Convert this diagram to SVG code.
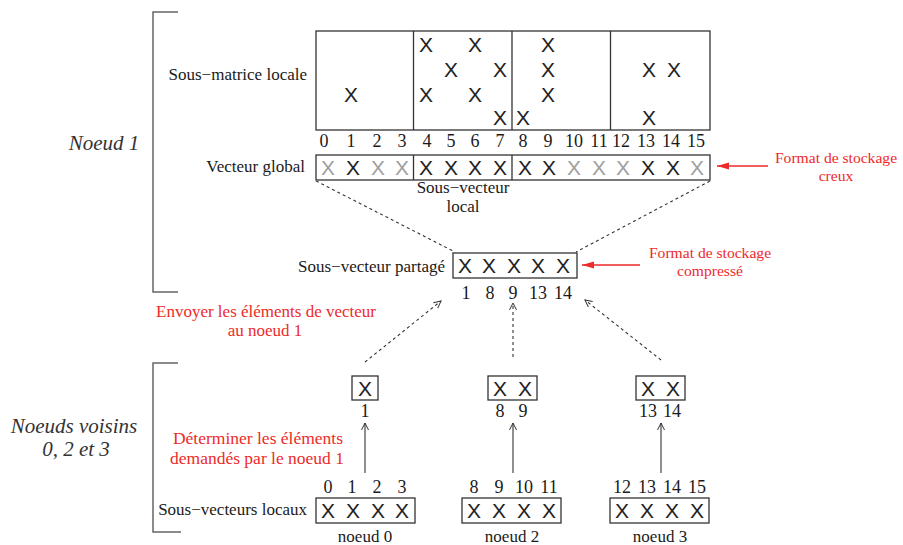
<svg xmlns="http://www.w3.org/2000/svg" width="903" height="545" viewBox="0 0 903 545">
<defs>
<style>
.lbl{font-family:"Liberation Serif",serif;font-size:17px;fill:#1a1a1a}
.num{font-family:"Liberation Serif",serif;font-size:18px;fill:#1a1a1a;text-anchor:middle}
.ital{font-family:"Liberation Serif",serif;font-style:italic;font-size:21px;fill:#333;text-anchor:middle}
.red{font-family:"Liberation Serif",serif;font-size:17.5px;fill:#ee2a2a;text-anchor:middle}
.rede{font-family:"Liberation Serif",serif;font-size:17px;fill:#ee2a2a;text-anchor:middle}
.redf{font-family:"Liberation Serif",serif;font-size:15.6px;fill:#ee2a2a;text-anchor:middle}
.x{font-family:"Liberation Sans",sans-serif;font-size:21px;fill:#222;text-anchor:middle}
.g{fill:#a0a0a0}
.box{fill:none;stroke:#333;stroke-width:1.3}
.brk{fill:none;stroke:#666;stroke-width:1.5}
.dash{fill:none;stroke:#333;stroke-width:1.1;stroke-dasharray:3,3}
.solid{fill:none;stroke:#333;stroke-width:1.1}
.rline{fill:none;stroke:#ee2a2a;stroke-width:1.3}
</style>
<marker id="open" markerWidth="10" markerHeight="10" refX="8" refY="5" orient="auto" markerUnits="userSpaceOnUse">
<path d="M1,1.5 L8,5 L1,8.5" fill="none" stroke="#333" stroke-width="1"/>
</marker>
<marker id="redh" markerWidth="14" markerHeight="10" refX="12" refY="5" orient="auto" markerUnits="userSpaceOnUse">
<path d="M0,1.5 L12,5 L0,8.5 Z" fill="#ee2a2a"/>
</marker>
</defs>

<g id="bracket-noeud1">
<path class="brk" d="M178,12 H153 V292 H178"/>
<text class="ital" x="104" y="150">Noeud 1</text>
</g>
<g id="bracket-voisins">
<path class="brk" d="M178,363 H153 V532 H181"/>
<text class="ital" x="74" y="433">Noeuds voisins<tspan x="76" dy="23">0, 2 et 3</tspan></text>
</g>

<g id="sous-matrice">
<text class="lbl" x="307" y="80" text-anchor="end">Sous−matrice locale</text>
<rect class="box" x="316" y="31" width="394" height="99"/>
<line class="box" x1="413.5" y1="31" x2="413.5" y2="130"/>
<line class="box" x1="512" y1="31" x2="512" y2="130"/>
<line class="box" x1="610.5" y1="31" x2="610.5" y2="130"/>
<text class="x" x="426" y="52">X</text><text class="x" x="475" y="52">X</text><text class="x" x="548" y="52">X</text>
<text class="x" x="451" y="77">X</text><text class="x" x="500" y="77">X</text><text class="x" x="548" y="77">X</text><text class="x" x="649" y="77">X</text><text class="x" x="674" y="77">X</text>
<text class="x" x="351" y="102">X</text><text class="x" x="426" y="102">X</text><text class="x" x="475" y="102">X</text><text class="x" x="548" y="102">X</text>
<text class="x" x="500" y="125">X</text><text class="x" x="523" y="125">X</text><text class="x" x="649" y="125">X</text>
</g>

<g id="vecteur-global">
<text class="num" x="324" y="147">0</text><text class="num" x="351" y="147">1</text><text class="num" x="377" y="147">2</text><text class="num" x="402" y="147">3</text>
<text class="num" x="427" y="147">4</text><text class="num" x="451" y="147">5</text><text class="num" x="475" y="147">6</text><text class="num" x="500" y="147">7</text>
<text class="num" x="523" y="147">8</text><text class="num" x="548" y="147">9</text><text class="num" x="574" y="147">10</text><text class="num" x="599" y="147">11</text>
<text class="num" x="621" y="147">12</text><text class="num" x="646" y="147">13</text><text class="num" x="671" y="147">14</text><text class="num" x="696" y="147">15</text>
<text class="lbl" x="305" y="172" text-anchor="end">Vecteur global</text>
<rect class="box" x="316" y="155" width="394" height="25"/>
<line class="box" x1="413.5" y1="155" x2="413.5" y2="180"/>
<line class="box" x1="512" y1="155" x2="512" y2="180"/>
<text class="x g" x="328" y="175">X</text><text class="x" x="353" y="175">X</text><text class="x g" x="378" y="175">X</text><text class="x g" x="402" y="175">X</text>
<text class="x" x="426" y="175">X</text><text class="x" x="451" y="175">X</text><text class="x" x="475" y="175">X</text><text class="x" x="500" y="175">X</text>
<text class="x" x="525" y="175">X</text><text class="x" x="549" y="175">X</text><text class="x g" x="574" y="175">X</text><text class="x g" x="599" y="175">X</text>
<text class="x g" x="623" y="175">X</text><text class="x" x="648" y="175">X</text><text class="x" x="673" y="175">X</text><text class="x g" x="697" y="175">X</text>
<text class="lbl" x="463" y="193" text-anchor="middle">Sous−vecteur<tspan x="463" dy="19">local</tspan></text>
</g>

<g id="note-creux">
<text class="redf" x="836" y="163">Format de stockage<tspan x="836" dy="17.5">creux</tspan></text>
</g>

<g id="sous-vecteur-partage">
<text class="lbl" x="445" y="272" text-anchor="end">Sous−vecteur partagé</text>
<rect class="box" x="453" y="253" width="124" height="25"/>
<text class="x" x="465" y="273">X</text><text class="x" x="489" y="273">X</text><text class="x" x="514" y="273">X</text><text class="x" x="538" y="273">X</text><text class="x" x="563" y="273">X</text>
<text class="num" x="466" y="299">1</text><text class="num" x="490" y="299">8</text><text class="num" x="513" y="299">9</text><text class="num" x="538" y="299">13</text><text class="num" x="563" y="299">14</text>
</g>

<g id="note-compresse">
<text class="redf" x="710" y="258">Format de stockage<tspan x="710" dy="17.5">compressé</tspan></text>
</g>

<g id="note-envoyer">
<text class="rede" x="266" y="317">Envoyer les éléments de vecteur<tspan x="265" dy="19">au noeud 1</tspan></text>
</g>

<g id="envoi-noeud0">
<rect class="box" x="352" y="376" width="26" height="24"/>
<text class="x" x="365" y="396">X</text>
<text class="num" x="365" y="417">1</text>
</g>
<g id="envoi-noeud2">
<rect class="box" x="488" y="376" width="49" height="24"/>
<text class="x" x="500" y="396">X</text><text class="x" x="525" y="396">X</text>
<text class="num" x="500" y="417">8</text><text class="num" x="523" y="417">9</text>
</g>
<g id="envoi-noeud3">
<rect class="box" x="636" y="376" width="49" height="24"/>
<text class="x" x="648" y="396">X</text><text class="x" x="673" y="396">X</text>
<text class="num" x="648" y="417">13</text><text class="num" x="672" y="417">14</text>
</g>

<g id="note-determiner">
<text class="red" x="258" y="444">Déterminer les éléments<tspan x="257" dy="20">demandés par le noeud 1</tspan></text>
</g>

<g id="noeud0">
<text class="lbl" x="307" y="515" text-anchor="end">Sous−vecteurs locaux</text>
<text class="num" x="328" y="493">0</text><text class="num" x="352" y="493">1</text><text class="num" x="377" y="493">2</text><text class="num" x="402" y="493">3</text>
<rect class="box" x="316" y="498" width="99" height="25"/>
<text class="x" x="328" y="518">X</text><text class="x" x="353" y="518">X</text><text class="x" x="378" y="518">X</text><text class="x" x="402" y="518">X</text>
<text class="lbl" x="365" y="542" text-anchor="middle">noeud 0</text>
</g>
<g id="noeud2">
<text class="num" x="474" y="493">8</text><text class="num" x="499" y="493">9</text><text class="num" x="524" y="493">10</text><text class="num" x="549" y="493">11</text>
<rect class="box" x="462" y="498" width="99" height="25"/>
<text class="x" x="474" y="518">X</text><text class="x" x="499" y="518">X</text><text class="x" x="524" y="518">X</text><text class="x" x="549" y="518">X</text>
<text class="lbl" x="512" y="542" text-anchor="middle">noeud 2</text>
</g>
<g id="noeud3">
<text class="num" x="622" y="493">12</text><text class="num" x="647" y="493">13</text><text class="num" x="672" y="493">14</text><text class="num" x="697" y="493">15</text>
<rect class="box" x="610" y="498" width="99" height="25"/>
<text class="x" x="622" y="518">X</text><text class="x" x="647" y="518">X</text><text class="x" x="672" y="518">X</text><text class="x" x="697" y="518">X</text>
<text class="lbl" x="660" y="542" text-anchor="middle">noeud 3</text>
</g>

<g id="connectors">
<line class="dash" x1="316" y1="181" x2="455" y2="252"/>
<line class="dash" x1="710" y1="181" x2="576" y2="252"/>
<line class="rline" x1="768" y1="166" x2="717" y2="166" marker-end="url(#redh)"/>
<line class="rline" x1="640" y1="265" x2="582" y2="265" marker-end="url(#redh)"/>
<line class="dash" x1="365" y1="362" x2="441" y2="301" marker-end="url(#open)"/>
<line class="dash" x1="513" y1="357" x2="513" y2="303" marker-end="url(#open)"/>
<line class="dash" x1="661" y1="360" x2="585" y2="300" marker-end="url(#open)"/>
<line class="solid" x1="365" y1="473" x2="365" y2="423" marker-end="url(#open)"/>
<line class="solid" x1="513" y1="473" x2="513" y2="423" marker-end="url(#open)"/>
<line class="solid" x1="661" y1="473" x2="661" y2="423" marker-end="url(#open)"/>
</g>
</svg>
